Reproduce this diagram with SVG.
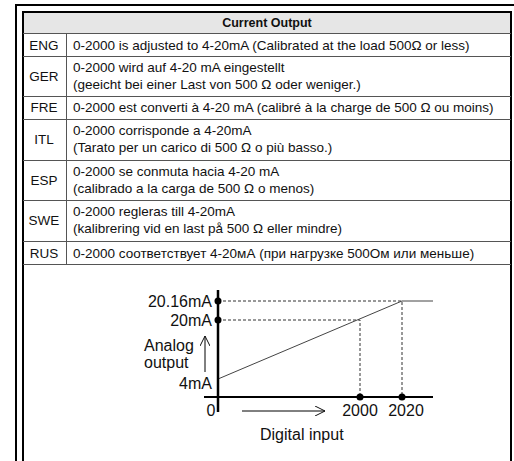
<svg xmlns="http://www.w3.org/2000/svg" width="514" height="461" viewBox="0 0 514 461">
<style>
.t{font-family:"Liberation Sans",Arial,sans-serif;font-size:13.5px;fill:#111}
.b{font-weight:bold;font-size:12.5px}
.c{text-anchor:middle}
.sep{stroke:#555;stroke-width:1;fill:none}
.frame{stroke:#000;stroke-width:2;fill:none}
.g{font-family:"Liberation Sans",Arial,sans-serif;font-size:16px;fill:#111}
.r{text-anchor:end}
.dash{stroke:#333;stroke-width:1;stroke-dasharray:3 2;fill:none}
.ax{stroke:#000;fill:none}
.dot{fill:#000}
.thin{stroke:#444;stroke-width:1;fill:none}
</style>
<defs>
<marker id="open" viewBox="0 0 10 10" refX="10" refY="5" markerWidth="10" markerHeight="10" markerUnits="userSpaceOnUse" orient="auto">
<path d="M0,0 L10,5 L0,10" fill="none" stroke="#111" stroke-width="1"/>
</marker>
</defs>
<rect width="514" height="461" fill="#fff"/>
<g id="frame">
<path class="frame" d="M16,461 V5 H514"/>
<rect x="24" y="13" width="486" height="20" fill="#e6e6e6"/>
<path class="frame" d="M23,461 V12 H511 V461"/>
<path class="sep" d="M23,33.5 H511 M23,56.5 H511 M23,96.5 H511 M23,119.5 H511 M23,160.5 H511 M23,200.5 H511 M23,241.5 H511 M23,264.5 H511 M66.5,33 V264"/>
</g>
<g id="header"><text class="t b c" x="267" y="27">Current Output</text></g>
<g id="row-eng">
<text class="t c" x="44" y="50">ENG</text>
<text class="t" x="73" y="50">0-2000 is adjusted to 4-20mA (Calibrated at the load 500Ω or less)</text>
</g>
<g id="row-ger">
<text class="t c" x="44" y="81">GER</text>
<text class="t" x="73" y="72">0-2000 wird auf 4-20 mA eingestellt</text>
<text class="t" x="73" y="89">(geeicht bei einer Last von 500 Ω oder weniger.)</text>
</g>
<g id="row-fre">
<text class="t c" x="44" y="112">FRE</text>
<text class="t" x="73" y="112">0-2000 est converti à 4-20 mA (calibré à la charge de 500 Ω ou moins)</text>
</g>
<g id="row-itl">
<text class="t c" x="44" y="144">ITL</text>
<text class="t" x="73" y="135">0-2000 corrisponde a 4-20mA</text>
<text class="t" x="73" y="152">(Tarato per un carico di 500 Ω o più basso.)</text>
</g>
<g id="row-esp">
<text class="t c" x="44" y="185">ESP</text>
<text class="t" x="73" y="176">0-2000 se conmuta hacia 4-20 mA</text>
<text class="t" x="73" y="193">(calibrado a la carga de 500 Ω o menos)</text>
</g>
<g id="row-swe">
<text class="t c" x="44" y="225">SWE</text>
<text class="t" x="73" y="216">0-2000 regleras till 4-20mA</text>
<text class="t" x="73" y="233">(kalibrering vid en last på 500 Ω eller mindre)</text>
</g>
<g id="row-rus">
<text class="t c" x="44" y="258">RUS</text>
<text class="t" x="73" y="258">0-2000 соответствует 4-20мА (при нагрузке 500Ом или меньше)</text>
</g>
<g id="connectors">
<path class="dash" d="M218,301 H402 V397 M218,320 H360 V397"/>
<path class="thin" d="M218,379 L402,301 H433"/>
<path class="ax" stroke-width="2.5" d="M218,290 V412"/>
<path class="ax" stroke-width="2" d="M204,397 H433"/>
<path class="ax" stroke-width="1" d="M205,372 V336" marker-end="url(#open)"/>
<path class="ax" stroke-width="1" d="M242,411 H325" marker-end="url(#open)"/>
<circle class="dot" cx="218" cy="301" r="3.5"/>
<circle class="dot" cx="218" cy="320" r="3.5"/>
<circle class="dot" cx="360" cy="397" r="3.5"/>
<circle class="dot" cx="402" cy="397" r="3.5"/>
</g>
<g id="graph-labels">
<text class="g r" x="212" y="307">20.16mA</text>
<text class="g r" x="212" y="326">20mA</text>
<text class="g" x="144" y="351">Analog</text>
<text class="g" x="144" y="368">output</text>
<text class="g r" x="212" y="389">4mA</text>
<text class="g c" x="211" y="416">0</text>
<text class="g c" x="360" y="416">2000</text>
<text class="g c" x="406" y="416">2020</text>
<text class="g" x="260" y="440">Digital input</text>
</g>
</svg>
